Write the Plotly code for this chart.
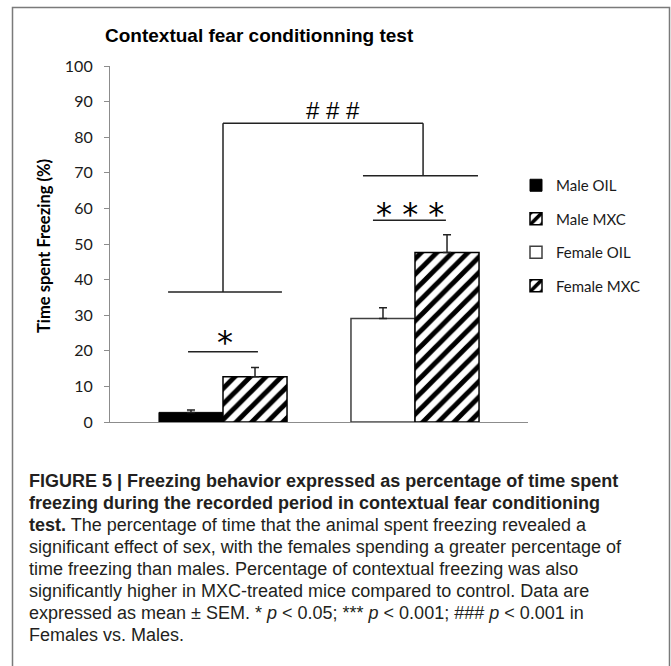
import plotly.graph_objects as go

# ---------------- data ----------------
groups = ["Male", "Female"]
series_names = ["Male OIL", "Male MXC", "Female OIL", "Female MXC"]
series_group = ["Male", "Male", "Female", "Female"]
series_slot = ["oil", "mxc", "oil", "mxc"]
means = [2.7, 12.7, 29.1, 47.6]
sems = [0.7, 2.6, 3.0, 5.0]
y_ticks = [0, 10, 20, 30, 40, 50, 60, 70, 80, 90, 100]

title_text = "Contextual fear conditionning test"
y_title = "Time spent Freezing (%)"
caption_lines = [
    "<b>FIGURE 5 | Freezing behavior expressed as percentage of time spent</b>",
    "<b>freezing during the recorded period in contextual fear conditioning</b>",
    "<b>test.</b> The percentage of time that the animal spent freezing revealed a",
    "significant effect of sex, with the females spending a greater percentage of",
    "time freezing than males. Percentage of contextual freezing was also",
    "significantly higher in MXC-treated mice compared to control. Data are",
    "expressed as mean \u00b1 SEM. * <i>p</i> &lt; 0.05; *** <i>p</i> &lt; 0.001; ### <i>p</i> &lt; 0.001 in",
    "Females vs. Males.",
]

# ---------------- layout geometry (pixels) ----------------
W, H = 671, 666
PL, PR, PT, PB = 110, 528, 66, 422


def px(xp):
    return (xp - PL) / (PR - PL)


def py(yp):
    return (PB - yp) / (PB - PT)


hatch = dict(shape="/", fgcolor="black", bgcolor="white", size=11, solidity=0.45, fillmode="replace")
styles = {
    "Male OIL": dict(color="black", line=dict(color="black", width=1)),
    "Male MXC": dict(color="white", line=dict(color="black", width=1.5), pattern=hatch),
    "Female OIL": dict(color="white", line=dict(color="#404040", width=1.5)),
    "Female MXC": dict(color="white", line=dict(color="black", width=1.5), pattern=hatch),
}

fig = go.Figure()
for name, grp, slot, m, s in zip(series_names, series_group, series_slot, means, sems):
    fig.add_trace(go.Bar(
        x=[grp], y=[m], name=name, offsetgroup=slot, legendgroup=name,
        marker=styles[name],
        error_y=dict(type="data", array=[s], arrayminus=[0], symmetric=False,
                     color="#222222", thickness=1.5, width=4),
    ))

CAL = "Lato, Carlito, Calibri, sans-serif"

fig.update_layout(
    width=W, height=H,
    margin=dict(l=PL, r=W - PR, t=PT, b=H - PB),
    paper_bgcolor="white", plot_bgcolor="white",
    barmode="group", bargap=0.333, bargroupgap=0,
    showlegend=True,
    legend=dict(x=px(516), y=py(169), xanchor="left", yanchor="top",
                font=dict(family=CAL, size=15, color="#1a1a1a"),
                tracegroupgap=11, bgcolor="rgba(0,0,0,0)", borderwidth=0),
    xaxis=dict(type="category", categoryorder="array", categoryarray=groups,
               range=[-0.5885, 1.5885], showticklabels=False, ticks="",
               showgrid=False, zeroline=False, showline=True,
               linecolor="#8c8c8c", linewidth=1.2),
    yaxis=dict(range=[0, 100], tickvals=y_ticks, ticks="outside", ticklen=5,
               tickcolor="#8c8c8c", showgrid=False, zeroline=False,
               showline=True, linecolor="#8c8c8c", linewidth=1.2,
               tickfont=dict(family=CAL, size=16, color="#1a1a1a"),
               ticklabelstandoff=8),
)

ann = []
# chart title
ann.append(dict(text="<b>" + title_text + "</b>", xref="paper", yref="paper",
                x=px(103), y=py(35), xanchor="left", yanchor="middle",
                showarrow=False, font=dict(family="Liberation Sans, Arial", size=19, color="black")))
# y axis title
ann.append(dict(text="<b>" + y_title + "</b>", xref="paper", yref="paper",
                x=px(44), y=py(246), xanchor="center", yanchor="middle", textangle=-90,
                showarrow=False, font=dict(family=CAL, size=16.5, color="black")))

# significance markers (positions in category units, heights in %)
line_style = dict(color="#222222", width=1.5)
shapes = []


def hline(x0, x1, y):
    shapes.append(dict(type="line", xref="x", yref="y", x0=x0, x1=x1, y0=y, y1=y, line=line_style))


def vline(x, y0, y1):
    shapes.append(dict(type="line", xref="x", yref="y", x0=x, x1=x, y0=y0, y1=y1, line=line_style))


hline(-0.182, 0.182, 19.7)        # * bar
hline(0.781, 1.161, 56.7)         # *** bar
hline(-0.286, 0.307, 36.5)        # male bracket
vline(0.0, 36.5, 83.9)
hline(0.0, 1.042, 83.9)           # top bracket
vline(1.042, 69.2, 83.9)
hline(0.729, 1.328, 69.2)         # female bracket

star_font = dict(family="DejaVu Sans, Liberation Sans", size=32, color="black")
ann.append(dict(text="*", xref="x", yref="y", x=0.01, y=16.6, xanchor="center",
                yanchor="bottom", showarrow=False, font=star_font))
ann.append(dict(text="* * *", xref="x", yref="y", x=0.974, y=52.6, xanchor="center",
                yanchor="bottom", showarrow=False, font=star_font))
ann.append(dict(text="# # #", xref="x", yref="y", x=0.573, y=83.2, xanchor="center",
                yanchor="bottom", showarrow=False,
                font=dict(family="Liberation Sans, Arial", size=24, color="black")))

# outer frame
shapes.append(dict(type="rect", xref="paper", yref="paper",
                   x0=px(12.5), x1=px(669.5), y0=py(700), y1=py(7.5),
                   line=dict(color="#7a7a7a", width=1.5), fillcolor="rgba(0,0,0,0)", layer="below"))

# caption
for i, line in enumerate(caption_lines):
    ann.append(dict(text=line, xref="paper", yref="paper", x=px(27), y=py(481 + 22 * i),
                    xanchor="left", yanchor="middle", showarrow=False,
                    font=dict(family="Liberation Sans, Arial", size=18, color="#231f20")))

fig.update_layout(annotations=ann, shapes=shapes)
fig.write_html("out.html", config={"displayModeBar": False},
               post_script="document.body.style.margin='0';")
